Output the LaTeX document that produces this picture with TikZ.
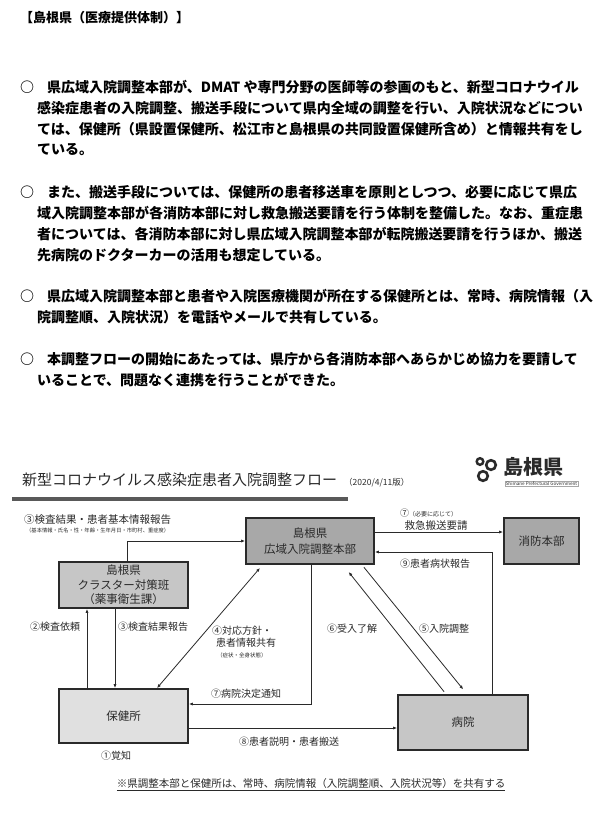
\documentclass[tikz,border=0pt]{standalone}
\usepackage{fontspec}
\newfontfamily\jp{Noto Sans CJK JP}
\usetikzlibrary{arrows.meta}
\definecolor{hqgray}{HTML}{A8A8A8}
\definecolor{midgray}{HTML}{C6C6C6}
\definecolor{ltgray}{HTML}{E0E0E0}
\definecolor{ink}{HTML}{2A2A2A}
\begin{document}
\begin{tikzpicture}[x=1pt,y=-1pt,
  body/.style={anchor=west,inner sep=0pt,font=\jp\bfseries\fontsize{14}{14}\selectfont},
  lbl/.style={anchor=west,inner sep=0pt,text=ink,font=\jp\fontsize{10}{10}\selectfont},
  tiny/.style={anchor=west,inner sep=0pt,text=ink,font=\jp\fontsize{5.3}{6}\selectfont},
  box/.style={draw=ink,line width=1.8pt,inner sep=0pt,align=center,text=ink,font=\jp\fontsize{11.5}{15.5}\selectfont},
  arr/.style={draw=ink,line width=0.8pt,-{Latex[length=4pt,width=3.2pt]}},
  arrb/.style={draw=ink,line width=0.8pt,{Latex[length=4pt,width=3.2pt]}-{Latex[length=4pt,width=3.2pt]}}]
\useasboundingbox (0,0) rectangle (612,833);
\fill[white] (0,0) rectangle (612,833);

% ---- heading and bullets ----
\node[body,font=\jp\bfseries\fontsize{13}{13}\selectfont] (t0) at (20,18) {【島根県（医療提供体制）】};

\node[body] (b1m) at (20,87) {○};
\node[body] (b1a) at (47,87) {県広域入院調整本部が、DMAT や専門分野の医師等の参画のもと、新型コロナウイル};
\node[body] (b1b) at (37,108) {感染症患者の入院調整、搬送手段について県内全域の調整を行い、入院状況などについ};
\node[body] (b1c) at (37,129) {ては、保健所（県設置保健所、松江市と島根県の共同設置保健所含め）と情報共有をし};
\node[body] (b1d) at (37,150) {ている。};

\node[body] (b2m) at (20,192) {○};
\node[body] (b2a) at (47,192) {また、搬送手段については、保健所の患者移送車を原則としつつ、必要に応じて県広};
\node[body] (b2b) at (37,213) {域入院調整本部が各消防本部に対し救急搬送要請を行う体制を整備した。なお、重症患};
\node[body] (b2c) at (37,234) {者については、各消防本部に対し県広域入院調整本部が転院搬送要請を行うほか、搬送};
\node[body] (b2d) at (37,255) {先病院のドクターカーの活用も想定している。};

\node[body] (b3m) at (20,296) {○};
\node[body] (b3a) at (47,296) {県広域入院調整本部と患者や入院医療機関が所在する保健所とは、常時、病院情報（入};
\node[body] (b3b) at (37,317) {院調整順、入院状況）を電話やメールで共有している。};

\node[body] (b4m) at (20,359) {○};
\node[body] (b4a) at (47,359) {本調整フローの開始にあたっては、県庁から各消防本部へあらかじめ協力を要請して};
\node[body] (b4b) at (37,380) {いることで、問題なく連携を行うことができた。};

% ---- diagram title ----
\node[lbl,font=\jp\fontsize{15}{15}\selectfont] (dt) at (22,480) {新型コロナウイルス感染症患者入院調整フロー};
\node[lbl,font=\jp\fontsize{8.5}{9}\selectfont] (dv) at (344,483) {（2020/4/11版）};
\draw[line width=4pt,black!65] (12,499) -- (348,499);

% ---- logo ----
\draw[ink,line width=2.4pt] (480,461.5) circle (3.3);
\draw[ink,line width=2.6pt] (491,465) circle (4.8);
\draw[ink,line width=2.6pt] (483,476) circle (4.8);
\node[lbl,font=\jp\bfseries\fontsize{20}{20}\selectfont] (lg) at (503,467) {島根県};
\node[lbl,font=\jp\fontsize{4.6}{5}\selectfont,draw=black!35,line width=0.3pt,inner sep=0.6pt] (lge) at (505,483.5) {Shimane Prefectural Government};

% ---- boxes ----
\node[box,fill=hqgray,minimum width=128pt,minimum height=46pt] (HQ) at (310,541) {島根県\\広域入院調整本部};
\node[box,fill=hqgray,minimum width=75pt,minimum height=46pt] (FD) at (541.5,541) {消防本部};
\node[box,fill=midgray,minimum width=129pt,minimum height=46pt,font=\jp\fontsize{11.5}{14.5}\selectfont] (CL) at (123.5,585) {島根県\\クラスター対策班\\（薬事衛生課）};
\node[box,fill=ltgray,minimum width=129pt,minimum height=54pt] (HC) at (123.5,716) {保健所};
\node[box,fill=midgray,minimum width=130pt,minimum height=55pt] (HP) at (463,722.5) {病院};

% ---- connectors ----
\draw[arr] ([xshift=3.5pt]CL.north) |- (HQ.west);
\draw[arr] ([yshift=9pt]HQ.east) -- ([yshift=9pt]FD.west);
\draw[arr] ([xshift=29pt]HP.north) |- ([yshift=-11pt]HQ.east);
\draw[arr] ([xshift=-36.5pt]HC.north) -- ([xshift=-36.5pt]CL.south);
\draw[arr] ([xshift=-8.5pt]CL.south) -- ([xshift=-8.5pt]HC.north);
\draw[arrb] ([xshift=33.5pt]HC.north) -- ([xshift=-50pt,yshift=-3pt]HQ.south);
\draw[arr,shorten >=6pt,shorten <=3pt] ([xshift=52pt]HQ.south) -- ([xshift=4pt]HP.north);
\draw[arr,shorten >=9pt,shorten <=3pt] ([xshift=-17pt]HP.north) -- ([xshift=33pt]HQ.south);
\draw[arr] ([xshift=1pt]HQ.south) |- ([yshift=12pt]HC.east);
\coordinate (h8) at ([yshift=-12pt]HC.east);
\draw[arr] (h8) -- (h8 -| HP.west);

% ---- labels ----
\node[lbl,font=\jp\fontsize{10.5}{11}\selectfont] (l3a) at (24,520) {③検査結果・患者基本情報報告};
\node[tiny] (l3b) at (26,530) {（基本情報・氏名・性・年齢・生年月日・市町村、重症度）};
\node[lbl,font=\jp\fontsize{9}{9}\selectfont] (l7a) at (400,513) {⑦\fontsize{6}{6}\selectfont（必要に応じて）};
\node[lbl,font=\jp\fontsize{10.5}{11}\selectfont,anchor=center] (l7b) at (436,526) {救急搬送要請};
\node[lbl] (l9) at (400,564) {⑨患者病状報告};
\node[lbl] (l2) at (30,627) {②検査依頼};
\node[lbl] (l3c) at (118,627) {③検査結果報告};
\node[lbl] (l4a) at (212,631) {④対応方針・};
\node[lbl] (l4b) at (216,643) {患者情報共有};
\node[tiny,font=\jp\fontsize{5.5}{6}\selectfont] (l4c) at (217,655) {（症状・全身状態）};
\node[lbl] (l6) at (327,629) {⑥受入了解};
\node[lbl] (l5) at (419,629) {⑤入院調整};
\node[lbl] (l7c) at (211,694) {⑦病院決定通知};
\node[lbl] (l8) at (239,742) {⑧患者説明・患者搬送};
\node[lbl] (l1) at (101,756) {①覚知};
\node[lbl,anchor=center,font=\jp\fontsize{10.5}{11}\selectfont] (ft) at (311,785) {\underline{※県調整本部と保健所は、常時、病院情報（入院調整順、入院状況等）を共有する}};
\end{tikzpicture}
\end{document}
